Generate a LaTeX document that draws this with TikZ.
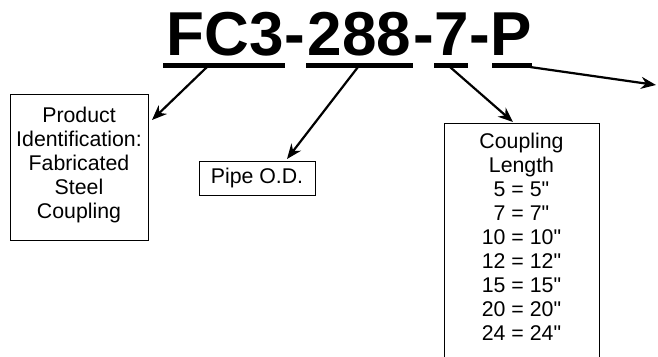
\documentclass[tikz,border=0pt]{standalone}
\usepackage{fontspec}
\setmainfont{Liberation Sans}[Ligatures=TeXOff]
\usetikzlibrary{arrows.meta}
\newcommand{\dq}{\char34\relax}
\begin{document}
\begin{tikzpicture}[x=1pt,y=-1pt,
  title/.style={font=\fontsize{62}{62}\selectfont\bfseries, inner sep=0pt, anchor=base},
  uline/.style={line width=5pt},
  lbl/.style={font=\fontsize{21.3}{24}\selectfont, align=center, inner sep=0pt},
  boxline/.style={draw=black, line width=0.9pt},
  arr/.style={line width=2.2pt, -{Stealth[length=15pt,width=12pt]}}]
\useasboundingbox (0,0) rectangle (658,356);
% title pieces
\node[title] (t1) at (225,55) {FC3};
\node[title] (h1) at (295,55) {-};
\node[title] (t2) at (359.5,55) {288};
\node[title] (h2) at (423.5,55) {-};
\node[title] (t3) at (452,55) {7};
\node[title] (h3) at (480,55) {-};
\node[title] (t4) at (511.5,55) {P};
% underlines
\draw[uline] (163,65) -- (285,65);
\draw[uline] (306,65) -- (413,65);
\draw[uline] (434,65) -- (468,65);
\draw[uline] (492,65) -- (532,65);
\coordinate (s1) at (207,67);
\coordinate (s2) at (358,67);
\coordinate (s3) at (450,67);
\coordinate (s4) at (530,67);
% boxes
\node[boxline, minimum width=138pt, minimum height=146pt, inner sep=0pt] (prod) at (79,167) {};
\node[lbl] (prodt) at (79,165) {Product\\Identification:\\Fabricated\\Steel\\Coupling};
\node[boxline, lbl, minimum width=116pt, minimum height=34pt] (pipe) at (257,178) {Pipe O.D.};
\node[boxline, minimum width=155pt, minimum height=260pt, inner sep=0pt, anchor=north] (cbox) at (521.5,123) {};
\node[lbl] (coup) at (521.5,236.5) {Coupling\\Length\\5 = 5\dq\\7 = 7\dq\\10 = 10\dq\\12 = 12\dq\\15 = 15\dq\\20 = 20\dq\\24 = 24\dq};
\coordinate (e1) at (152,120);
\coordinate (e2) at (287,159);
\coordinate (e3) at (513,122);
\coordinate (e4) at (656,85);
\draw[arr] (s1) -- (e1);
\draw[arr] (s2) -- (e2);
\draw[arr] (s3) -- (e3);
\draw[arr] (s4) -- (e4);
\end{tikzpicture}
\end{document}
